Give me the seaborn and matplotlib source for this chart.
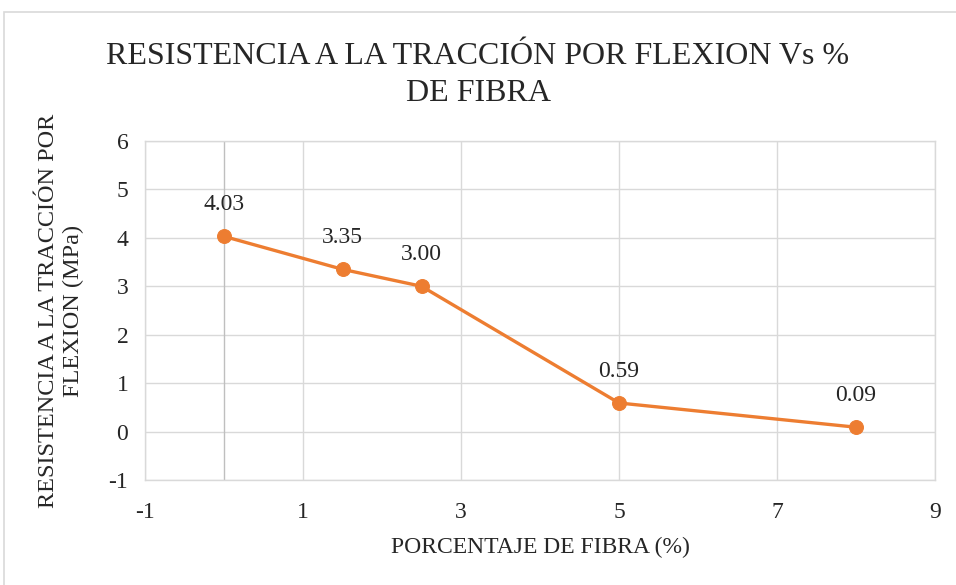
import numpy as np
import pandas as pd
import seaborn as sns
import matplotlib.pyplot as plt
from matplotlib.patches import Rectangle

fibra = [0, 1.5, 2.5, 5, 8]
resistencia = [4.03, 3.35, 3.00, 0.59, 0.09]
etiquetas = ["4.03", "3.35", "3.00", "0.59", "0.09"]
x_ticks = [-1, 1, 3, 5, 7, 9]
y_ticks = [-1, 0, 1, 2, 3, 4, 5, 6]

sns.set_style("white")
plt.rcParams['font.family'] = ['Liberation Serif', 'DejaVu Serif']
plt.rcParams['axes.unicode_minus'] = False

fig = plt.figure(figsize=(9.56, 5.85), dpi=100)
ax = fig.add_axes([0.1517, 0.1795, 0.978 - 0.1517, 0.759 - 0.1795])

# borde del area del grafico
fig.patches.append(Rectangle((0.004, -0.1), 1.2, 0.9795 + 0.1, transform=fig.transFigure,
                             fill=False, edgecolor='#d9d9d9', linewidth=1.2))

df = pd.DataFrame({'x': fibra, 'y': resistencia})
sns.lineplot(data=df, x='x', y='y', ax=ax, color='#ED7D31', linewidth=2.4,
             marker='o', markersize=10, markeredgecolor='#ED7D31', zorder=3)

for xi, yi, t in zip(fibra, resistencia, etiquetas):
    ax.annotate(t, (xi, yi), xytext=(0, 23), textcoords='offset points',
                ha='center', va='center', fontsize=17, color='#262626')

ax.set_xlim(-1, 9)
ax.set_ylim(-1, 6)
ax.set_xticks(x_ticks)
ax.set_yticks(y_ticks)
ax.grid(True, color='#d9d9d9', linewidth=1)
ax.axvline(0, color='#bfbfbf', linewidth=1, zorder=1)
for s in ax.spines.values():
    s.set_color('#d9d9d9')
    s.set_linewidth(1)
ax.tick_params(axis='both', length=0, labelsize=17, colors='#262626')
ax.tick_params(axis='x', pad=16)
ax.tick_params(axis='y', pad=12)

ax.set_xlabel('PORCENTAJE DE FIBRA (%)', fontsize=17, color='#262626', labelpad=10)
ax.set_ylabel('RESISTENCIA A LA TRACCIÓN POR\nFLEXION (MPa)', fontsize=17.5, color='#262626',
              labelpad=18, linespacing=1.2)

fig.text(0.5, 0.928, 'RESISTENCIA A LA TRACCIÓN POR FLEXION Vs %\nDE FIBRA', ha='center',
         va='top', fontsize=23, color='#262626', linespacing=1.35)

fig.savefig('out.png', dpi=100)
